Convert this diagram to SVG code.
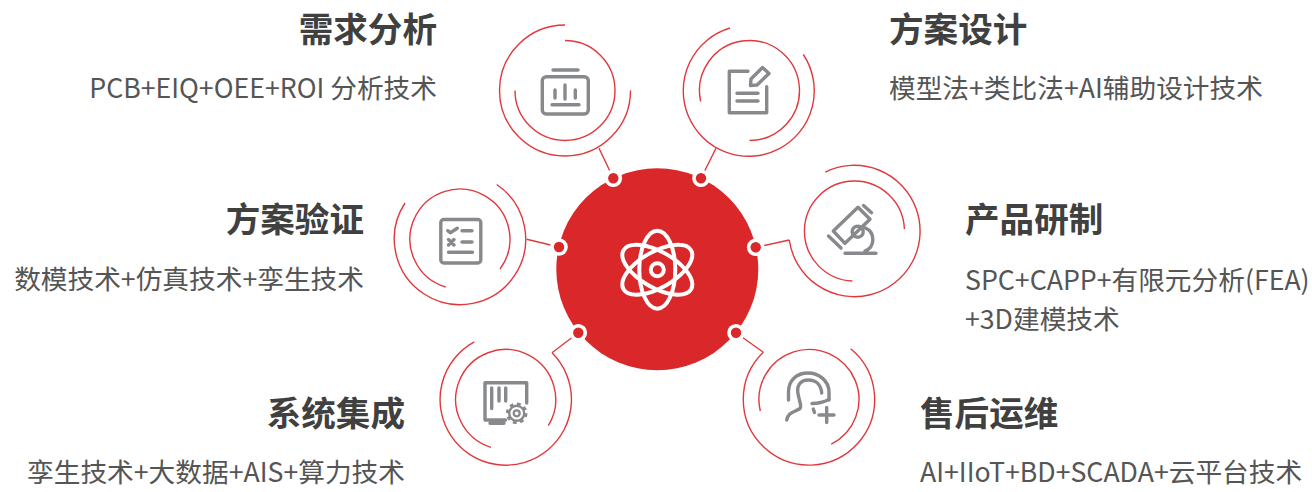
<svg xmlns="http://www.w3.org/2000/svg" width="1312" height="492" viewBox="0 0 1312 492">
<style>
text{font-family:"Noto Sans CJK SC","Noto Sans",sans-serif}
.t{font-size:34.6px;font-weight:700;fill:#404040}
.s{font-size:26.7px;font-weight:400;fill:#555}
.e{text-anchor:end}
.r{fill:none;stroke:#e0383c;stroke-width:1.4}
.i{fill:none;stroke:#88898c;stroke-width:3.4;stroke-linecap:round;stroke-linejoin:round}
.a{fill:none;stroke:#fff;stroke-width:4}
.w{fill:#fff}
.d{fill:#d9272a}
</style>
<rect width="1312" height="492" fill="#fff"/>
<g id="connectors" class="r">
<path d="M599 148.3L613.3 178.3"/>
<path d="M716 148.3L701 178.3"/>
<path d="M526.7 239.3L559 247"/>
<path d="M789.3 240L755.7 247.3"/>
<path d="M552 352.8L578.3 332.7"/>
<path d="M763.3 352.2L736 332.7"/>
</g>
<g id="center">
<circle class="d" cx="657.3" cy="269.2" r="101"/>
<circle class="a" cx="657.3" cy="269.7" r="6.5"/>
<ellipse class="a" cx="657.3" cy="269.7" rx="18" ry="39"/>
<ellipse class="a" cx="657.3" cy="269.7" rx="18" ry="39" transform="rotate(60 657.3 269.7)"/>
<ellipse class="a" cx="657.3" cy="269.7" rx="18" ry="39" transform="rotate(-60 657.3 269.7)"/>
<circle class="w" cx="613.3" cy="178.3" r="8.8"/><circle class="d" cx="613.3" cy="178.3" r="5.2"/>
<circle class="w" cx="701" cy="178.3" r="8.8"/><circle class="d" cx="701" cy="178.3" r="5.2"/>
<circle class="w" cx="559" cy="247" r="8.8"/><circle class="d" cx="559" cy="247" r="5.2"/>
<circle class="w" cx="755.7" cy="247.3" r="8.8"/><circle class="d" cx="755.7" cy="247.3" r="5.2"/>
<circle class="w" cx="578.3" cy="332.7" r="8.8"/><circle class="d" cx="578.3" cy="332.7" r="5.2"/>
<circle class="w" cx="736" cy="332.7" r="8.8"/><circle class="d" cx="736" cy="332.7" r="5.2"/>
</g>
<g id="node-demand">
<path class="r" d="M565 25A65.5 65.5 0 1 0 630.5 90.5"/>
<path class="r" d="M565 40.5A50 50 0 1 1 515 90.5"/>
<g class="i">
<rect x="542.3" y="76.7" width="46" height="37.3" rx="4"/>
<path d="M553 70H578M555 90V98M565 85V99M575.3 90V98M552 104.7H579"/>
</g>
<text class="t e" x="437" y="42">需求分析</text>
<text class="s e" x="437" y="97.5">PCB+EIQ+OEE+ROI 分析技术</text>
</g>
<g id="node-design">
<path class="r" d="M730 28A65.5 65.5 0 1 0 803.3 54.5"/>
<path class="r" d="M700.7 101.5A50 50 0 1 1 749.5 140.5"/>
<g class="i">
<path d="M748 71.3H729.3V112.7H766.7V86.7M737 93.3H758M737 101H758"/>
<path d="M750.5 85.5L751 79L762.5 67.5L769 73.5L757 85Z"/>
</g>
<text class="t" x="889" y="42">方案设计</text>
<text class="s" x="889" y="97.5">模型法+类比法+AI辅助设计技术</text>
</g>
<g id="node-verify">
<path class="r" d="M496.7 184.5A65.7 65.7 0 1 1 405 203"/>
<path class="r" d="M445.7 287A50 50 0 1 1 500 269"/>
<g class="i">
<rect x="440.8" y="219.5" width="40" height="43.5" rx="3"/>
<path d="M447.7 230.7L450.3 232.7L457.3 228.3M462 230.7H472M462 242H472M448.5 239.5L454 245M454 239.5L448.5 245M448.5 252.3H472.5"/>
</g>
<text class="t e" x="364" y="232">方案验证</text>
<text class="s e" x="364" y="289">数模技术+仿真技术+孪生技术</text>
</g>
<g id="node-rd">
<path class="r" d="M825.3 172.1A65.7 65.7 0 1 1 789.3 240"/>
<path class="r" d="M904.4 229A50 50 0 1 0 852.3 281"/>
<g class="i">
<path d="M858 207.3L870 219.3L845 243.3L833.3 231ZM863.5 205.5L871.5 212.7M828.5 236L841 248"/>
<circle cx="857.7" cy="231.7" r="5.5"/>
<path d="M865.5 228A12.5 12.5 0 0 1 865 251M845 253.3H876"/>
</g>
<text class="t" x="965" y="232">产品研制</text>
<text class="s" x="965" y="289.5">SPC+CAPP+有限元分析(FEA)</text>
<text class="s" x="965" y="329">+3D建模技术</text>
</g>
<g id="node-integration">
<path class="r" d="M474.3 341.8A65.7 65.7 0 1 0 552 352.8"/>
<path class="r" d="M491 447.3A50 50 0 1 1 548.3 425.7"/>
<g class="i">
<path d="M526.7 403V382.7H485V420H505.5M491.7 388V408.5M499 388V401M505.7 388V401M490 423.3H504"/>
<circle cx="516.7" cy="413.3" r="7.5" stroke-width="2.4"/>
<circle cx="516.7" cy="413.3" r="3" stroke-width="2.2"/>
<circle cx="516.7" cy="413.3" r="9.3" stroke-width="3" stroke-dasharray="3.7 3.6" stroke-linecap="butt"/>
</g>
<text class="t e" x="405" y="426">系统集成</text>
<text class="s e" x="405" y="482">孪生技术+大数据+AIS+算力技术</text>
</g>
<g id="node-service">
<path class="r" d="M850.7 348.7A65.7 65.7 0 1 1 763.3 352.2"/>
<path class="r" d="M760.3 411A50 50 0 1 1 831.3 444.2"/>
<g class="i">
<path d="M788.5 400V392C788.5 380 797 373 808 373C819 373 829 381 829 392V400"/>
<path d="M798.3 395C796 386 800 380 808.5 380C816 380 821 385 821.7 393M798.3 395C800 404 802 406 800 408.5C795 412 788 412 786.7 420"/>
<path d="M812 403.5C818 403.5 824 402 829 399.5M813.3 409L814.5 412.5M819 415H834M826.7 407.5V422.5"/>
</g>
<text class="t" x="920" y="426">售后运维</text>
<text class="s" x="920" y="482">AI+IIoT+BD+SCADA+云平台技术</text>
</g>
</svg>
